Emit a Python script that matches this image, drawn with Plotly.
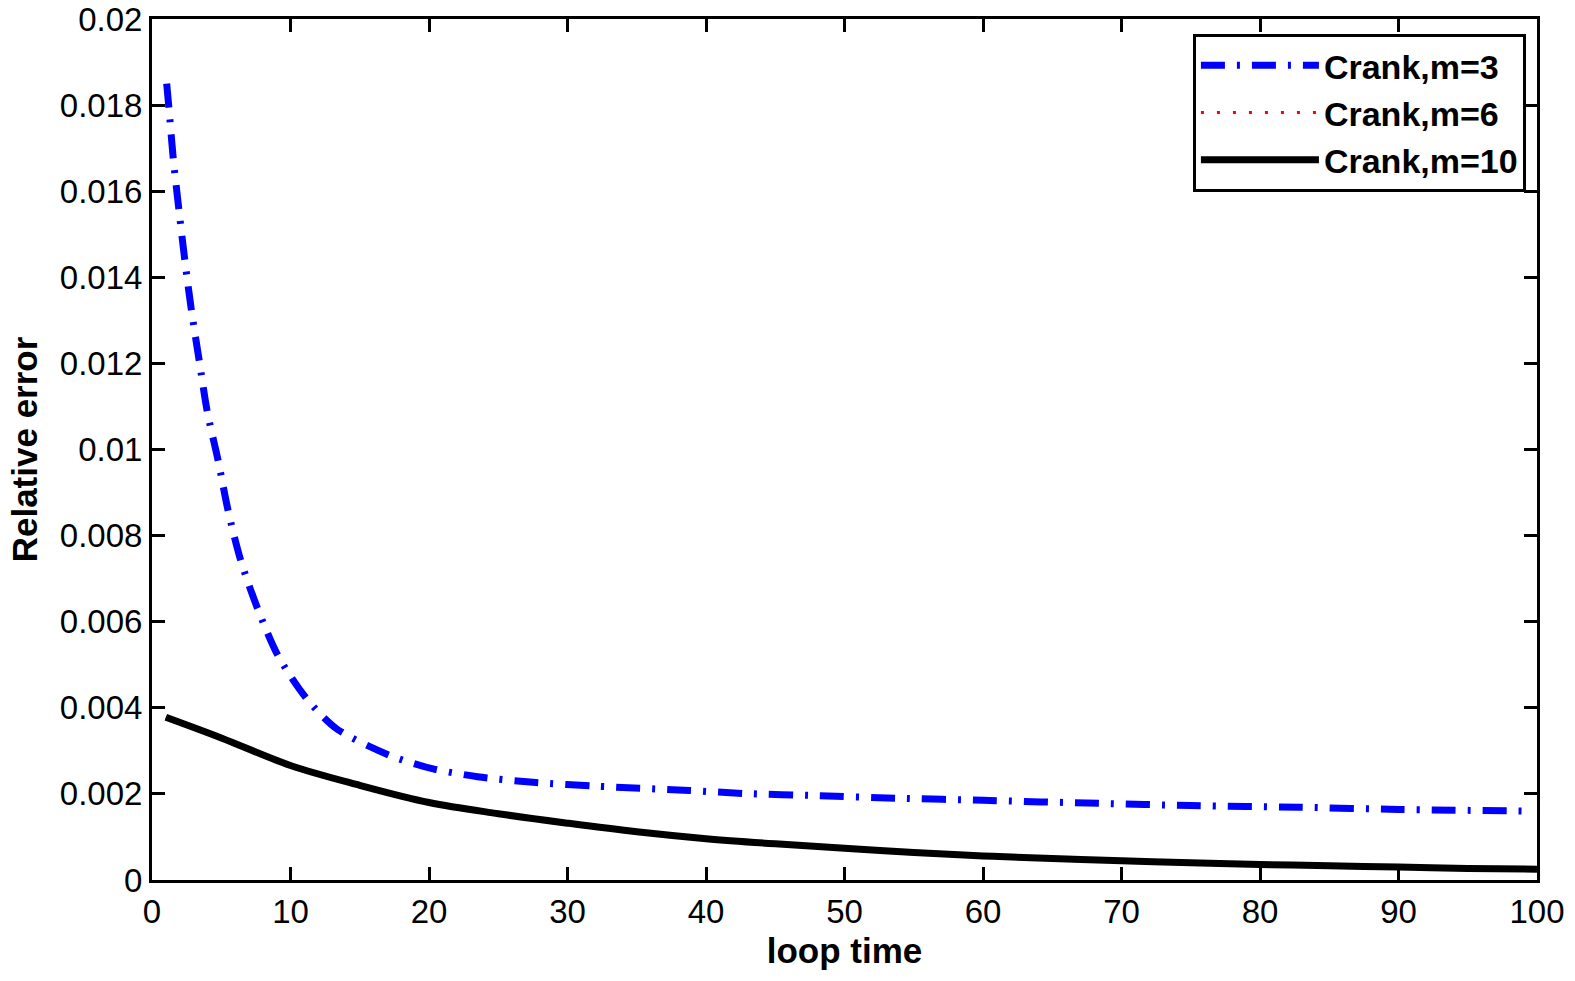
import plotly.graph_objects as go

# Data
x_m3 = [1.06, 1.23, 1.54, 1.95, 2.38, 2.86, 3.42, 3.99, 4.79, 5.51, 6.42, 7.63, 9.1, 11.1, 13.3, 17.2,
        20.3, 23.5, 27.5, 32, 38.8, 42.7, 48, 53.8, 60, 68.4, 75, 82.9, 90, 99.7]
y_m3 = [0.0185, 0.0179, 0.01674, 0.01555, 0.01437, 0.0132, 0.01204, 0.01088, 0.00972, 0.00856, 0.00741,
        0.0063, 0.00521, 0.00424, 0.00352, 0.00289, 0.00258, 0.0024, 0.00227, 0.00218, 0.00208, 0.00201,
        0.00196, 0.0019, 0.00185, 0.00178, 0.00173, 0.00169, 0.00164, 0.0016]

x_m6 = [1, 5, 10, 15, 20, 25, 30, 35, 40, 45, 50, 55, 60, 65, 70, 75, 80, 85, 90, 95, 100]
y_m6 = [0.00378, 0.0033, 0.00266, 0.0022, 0.0018, 0.00154, 0.00132, 0.00112, 0.00096, 0.00084, 0.00074,
        0.00064, 0.00056, 0.0005, 0.00045, 0.0004, 0.00036, 0.00033, 0.0003, 0.00027, 0.00025]

x_m10 = [1, 5, 10, 15, 20, 25, 30, 35, 40, 45, 50, 55, 60, 65, 70, 75, 80, 85, 90, 95, 100]
y_m10 = [0.00378, 0.0033, 0.00266, 0.0022, 0.0018, 0.00154, 0.00132, 0.00112, 0.00096, 0.00084, 0.00074,
         0.00064, 0.00056, 0.0005, 0.00045, 0.0004, 0.00036, 0.00033, 0.0003, 0.00027, 0.00025]

y_tickvals = [0, 0.002, 0.004, 0.006, 0.008, 0.01, 0.012, 0.014, 0.016, 0.018, 0.02]
y_ticktext = ["0", "0.002", "0.004", "0.006", "0.008", "0.01", "0.012", "0.014", "0.016", "0.018", "0.02"]
x_tickvals = [0, 10, 20, 30, 40, 50, 60, 70, 80, 90, 100]
x_ticktext = [str(v) for v in x_tickvals]

FONT = "Liberation Sans, Arial, sans-serif"

fig = go.Figure()
fig.add_trace(go.Scatter(x=x_m3, y=y_m3, mode="lines", name="Crank,m=3",
                         line=dict(color="#0000FF", width=7, dash="24px,12px,3px,12px",
                                   shape="spline", smoothing=0.8)))
fig.add_trace(go.Scatter(x=x_m6, y=y_m6, mode="lines", name="Crank,m=6",
                         line=dict(color="#FF0000", width=3, dash="3px,13px", shape="spline")))
fig.add_trace(go.Scatter(x=x_m10, y=y_m10, mode="lines", name="Crank,m=10",
                         line=dict(color="#000000", width=7, shape="spline")))

axis_common = dict(
    showline=True, linecolor="black", linewidth=3, mirror="ticks",
    ticks="inside", ticklen=13, tickwidth=3, tickcolor="black",
    showgrid=False, zeroline=False, ticklabeloverflow="allow", automargin=False,
    tickfont=dict(family=FONT, size=33, color="black"),
)

fig.update_layout(
    width=1575, height=981,
    margin=dict(l=152, r=38, t=19, b=101),
    paper_bgcolor="white", plot_bgcolor="white",
    showlegend=True,
    legend=dict(
        x=0.992, y=0.983, xanchor="right", yanchor="top",
        bgcolor="white", bordercolor="black", borderwidth=3,
        font=dict(family=FONT, size=34, color="black", weight="bold"),
        itemwidth=118, tracegroupgap=0,
    ),
    xaxis=dict(range=[0, 100], tickvals=x_tickvals, ticktext=x_ticktext,
               title=dict(text="<b>loop time</b>", font=dict(family=FONT, size=35, color="black"), standoff=10),
               **axis_common),
    yaxis=dict(range=[0, 0.02], tickvals=y_tickvals, ticktext=y_ticktext,
               title=dict(text="<b>Relative error</b>", font=dict(family=FONT, size=35, color="black"), standoff=12),
               **axis_common),
)

fig.write_html("out.html")
